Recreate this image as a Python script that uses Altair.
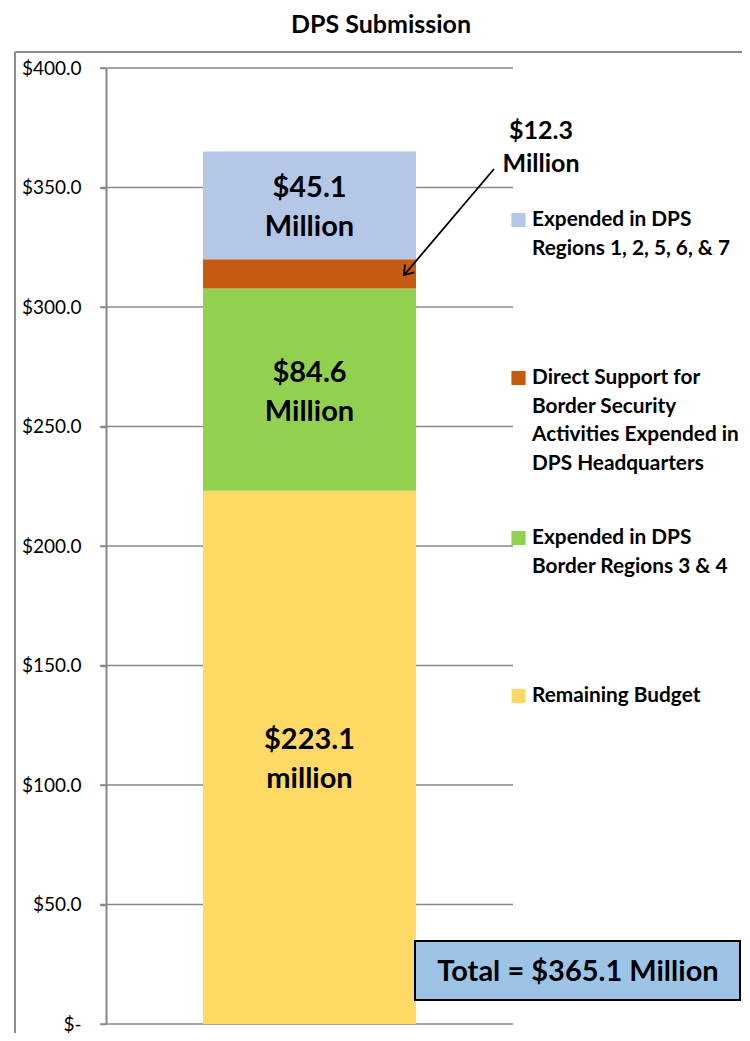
import altair as alt
import pandas as pd

# ---------------- data ----------------
bar_name = "DPS Submission"
categories = [
    "Remaining Budget",
    "Expended in DPS\nBorder Regions 3 & 4",
    "Direct Support for\nBorder Security\nActivities Expended in\nDPS Headquarters",
    "Expended in DPS\nRegions 1, 2, 5, 6, & 7",
]
values = [223.1, 84.6, 12.3, 45.1]
colors = ["#FFD966", "#92D050", "#C55A11", "#B4C7E7"]
segment_labels = ["$223.1\nmillion", "$84.6\nMillion", "", "$45.1\nMillion"]
callout_label = "$12.3\nMillion"
y_ticks = [0, 50, 100, 150, 200, 250, 300, 350, 400]

FONT = "Lato"
GRID = "#888888"

# ---------------- tables ----------------
df = pd.DataFrame({"cat": categories, "value": values, "idx": list(range(len(values)))})
cum = df["value"].cumsum()
df["mid"] = cum - df["value"] / 2
df["label"] = segment_labels
df["bar"] = bar_name
total = round(sum(values), 1)

ticks_df = pd.DataFrame({"v": y_ticks})

W, H = 636, 956
yscale = alt.Scale(domain=[0, 400], nice=False, zero=True)
xscale = alt.Scale(range=[0, 407], paddingOuter=0.455, paddingInner=0)
cscale = alt.Scale(domain=categories, range=colors)

yaxis = alt.Axis(
    values=y_ticks,
    labelExpr="datum.value == 0 ? '$-\u00a0' : '$' + format(datum.value, '.1f')",
    title=None, grid=False, domain=True, domainColor=GRID, domainWidth=2,
    ticks=True, tickColor=GRID, tickWidth=1.5, tickSize=6,
    labelPadding=19, labelFont=FONT, labelFontSize=19, labelColor="#000000",
)

# gridlines
grid = alt.Chart(ticks_df).mark_rule(color=GRID, strokeWidth=1.5).encode(
    y=alt.Y("v:Q", scale=yscale, axis=yaxis),
    x=alt.value(-6), x2=alt.value(407),
)

# stacked bar
bars = alt.Chart(df).mark_bar(size=213).encode(
    x=alt.X("bar:N", scale=xscale, axis=None),
    y=alt.Y("value:Q", scale=yscale, axis=yaxis, stack="zero"),
    color=alt.Color("cat:N", scale=cscale, legend=None),
    order=alt.Order("idx:Q", sort="ascending"),
)

# segment labels (two lines centred on each segment)
seg = alt.Chart(df[df["label"] != ""]).mark_text(
    font=FONT, fontSize=29, fontWeight="bold", color="#000000",
    lineBreak="\n", lineHeight=39, baseline="middle", align="center", dy=-17,
).encode(
    x=alt.X("bar:N", scale=xscale, axis=None),
    y=alt.Y("mid:Q", scale=yscale, axis=yaxis, stack=None),
    text="label:N",
)

# callout for the small segment
callout = alt.Chart(pd.DataFrame({"t": [callout_label]})).mark_text(
    font=FONT, fontSize=25, fontWeight="bold", color="#000000",
    lineBreak="\n", lineHeight=33, baseline="middle", align="center",
).encode(x=alt.value(435), y=alt.value(63), text="t:N")

arrow_line = alt.Chart(pd.DataFrame({"a": [0]})).mark_rule(color="#000000", strokeWidth=1.8).encode(
    x=alt.value(388), y=alt.value(101), x2=alt.value(299), y2=alt.value(206),
)
arrow_head = alt.Chart(pd.DataFrame({"a": [0]})).mark_point(
    shape="M -0.7 1 L 0 0 L 0.7 1", filled=False, stroke="#000000", strokeWidth=1.8,
    size=300, angle=220, opacity=1,
).encode(x=alt.value(298), y=alt.value(207))

# legend (manual, to match the original spacing)
legend_layers = []
legend_y = {categories[3]: 152, categories[2]: 310, categories[1]: 470, categories[0]: 628}
LH = 28.7
for cat in [categories[3], categories[2], categories[1], categories[0]]:
    one = pd.DataFrame({"cat": [cat]})
    y0 = legend_y[cat]
    legend_layers.append(
        alt.Chart(one).mark_square(size=200, opacity=1).encode(
            x=alt.value(412.5), y=alt.value(y0),
            color=alt.Color("cat:N", scale=cscale, legend=None),
        )
    )
    legend_layers.append(
        alt.Chart(one).mark_text(
            font=FONT, fontSize=20.8, fontWeight="bold", color="#000000",
            lineBreak="\n", lineHeight=LH, baseline="middle", align="left",
        ).encode(x=alt.value(426), y=alt.value(y0), text="cat:N")
    )

# total box
total_box = alt.Chart(pd.DataFrame({"a": [0]})).mark_rect(
    fill="#9DC3E6", stroke="#000000", strokeWidth=2,
).encode(x=alt.value(309), x2=alt.value(634), y=alt.value(873), y2=alt.value(932))
total_text = alt.Chart(pd.DataFrame({"t": [f"Total = ${total} Million"]})).mark_text(
    font=FONT, fontSize=29, fontWeight="bold", color="#000000", align="center", baseline="middle",
).encode(x=alt.value(472), y=alt.value(904), text="t:N")

# title and outer frame
title = alt.Chart(pd.DataFrame({"t": [bar_name]})).mark_text(
    font=FONT, fontSize=25, fontWeight="bold", color="#000000", align="center", baseline="middle",
).encode(x=alt.value(275), y=alt.value(-43), text="t:N")
frame_left = alt.Chart(pd.DataFrame({"a": [0]})).mark_rule(color="#8C8C8C", strokeWidth=2).encode(
    x=alt.value(-91), y=alt.value(-16), y2=alt.value(1100),
)
frame_top = alt.Chart(pd.DataFrame({"a": [0]})).mark_rule(color="#8C8C8C", strokeWidth=2).encode(
    x=alt.value(-91), x2=alt.value(900), y=alt.value(-16),
)

chart = alt.layer(
    frame_left, frame_top, title, grid, bars, seg, callout, arrow_line, arrow_head,
    *legend_layers, total_box, total_text,
).properties(
    width=W, height=H,
    padding={"left": 98, "top": 60, "right": 0, "bottom": 9},
    autosize=alt.AutoSizeParams(type="none"),
).configure_view(stroke=None).resolve_scale(color="shared")

chart.save("out.html", embed_options={"renderer": "svg", "actions": False})
